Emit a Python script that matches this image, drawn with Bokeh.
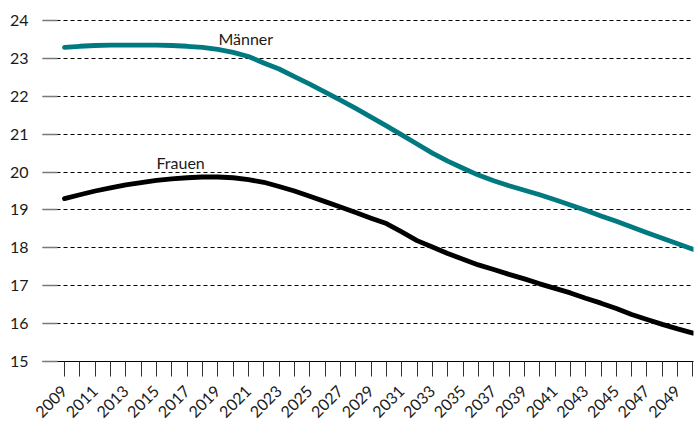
import math
from bokeh.plotting import figure
from bokeh.models import FixedTicker, Range1d, ColumnDataSource
from bokeh.core.properties import value
from bokeh.embed import file_html
from bokeh.resources import INLINE

years = list(range(2009, 2051))
maenner = [23.29, 23.32, 23.34, 23.35, 23.35, 23.35, 23.35, 23.34, 23.32, 23.29,
           23.24, 23.16, 23.05, 22.88, 22.72, 22.52, 22.32, 22.11, 21.90, 21.68,
           21.45, 21.22, 20.98, 20.74, 20.50, 20.29, 20.10, 19.92, 19.77, 19.64,
           19.52, 19.40, 19.27, 19.13, 18.99, 18.84, 18.70, 18.55, 18.40, 18.25,
           18.11, 17.96]
frauen = [19.30, 19.40, 19.50, 19.58, 19.66, 19.72, 19.78, 19.82, 19.85, 19.87,
          19.87, 19.85, 19.80, 19.73, 19.62, 19.50, 19.36, 19.22, 19.08, 18.93,
          18.78, 18.64, 18.42, 18.19, 18.02, 17.85, 17.70, 17.55, 17.43, 17.30,
          17.18, 17.05, 16.93, 16.81, 16.67, 16.54, 16.40, 16.24, 16.11, 15.98,
          15.86, 15.75]
y_ticks = list(range(15, 25))
x_label_years = list(range(2009, 2050, 2))
x_minor_years = list(range(2010, 2051, 2))

series_labels = ["Männer", "Frauen"]
label_x = [2019.04, 2015.0]
label_y = [23.52, 20.24]

FONT = "Lato"

p = figure(width=694, height=426, output_backend="svg", toolbar_location=None,
           x_range=Range1d(2007.565, 2050.034), y_range=Range1d(15, 24.053),
           min_border_left=42, min_border_right=1, min_border_top=18,
           min_border_bottom=65)
p.outline_line_color = None
p.background_fill_color = "white"
p.border_fill_color = "white"

# grid
p.xgrid.grid_line_color = None
p.ygrid.grid_line_color = "black"
p.ygrid.grid_line_dash = "4 3"
p.ygrid.grid_line_width = 1

# y axis
ya = p.yaxis[0]
ya.ticker = FixedTicker(ticks=y_ticks)
ya.axis_line_color = None
ya.major_tick_in = 15
ya.major_tick_out = 0
ya.major_tick_line_color = "#7a7a7a"
ya.major_tick_line_width = 1.5
ya.minor_tick_line_color = None
ya.major_label_standoff = 14
ya.major_label_text_font = FONT
ya.major_label_text_font_size = "16px"
ya.major_label_text_color = "#1a1a1a"

# x axis
xa = p.xaxis[0]
xa.ticker = FixedTicker(ticks=x_label_years, minor_ticks=x_minor_years)
xa.axis_line_color = "black"
xa.axis_line_width = 1
xa.major_tick_in = 0
xa.major_tick_out = 15
xa.minor_tick_in = 0
xa.minor_tick_out = 15
xa.major_tick_line_color = "#333333"
xa.minor_tick_line_color = "#333333"
xa.major_label_orientation = math.pi / 4
xa.major_label_standoff = 12
xa.major_label_text_font = FONT
xa.major_label_text_font_size = "16px"
xa.major_label_text_color = "#1a1a1a"

src = ColumnDataSource(dict(year=years, m=maenner, f=frauen))
p.line("year", "m", source=src, line_color="#007A80", line_width=4.8,
       line_cap="round", line_join="round")
p.line("year", "f", source=src, line_color="black", line_width=4.8,
       line_cap="round", line_join="round")

p.text(x=label_x, y=label_y, text=series_labels, text_font=value(FONT),
       text_font_size="16px", text_color="#1a1a1a", text_baseline="alphabetic",
       text_align="left")

open("out.html", "w").write(file_html(p, INLINE))
